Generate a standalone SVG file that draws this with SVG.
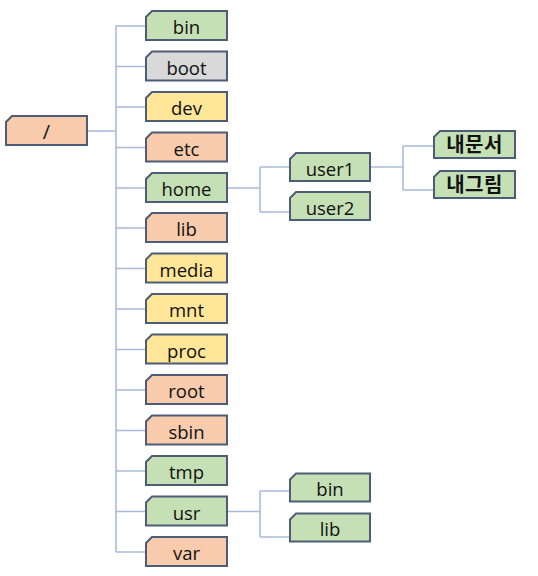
<svg xmlns="http://www.w3.org/2000/svg" width="538" height="576" viewBox="0 0 538 576">
<style>
.box{stroke:#4d5d78;stroke-width:2;stroke-linejoin:miter}
.g{fill:#c5e0b4}.gr{fill:#d9d9d9}.y{fill:#ffe699}.o{fill:#f8cbad}
.t{font-family:"Open Sans","Noto Sans",sans-serif;font-size:18.5px;fill:#111;text-anchor:middle}
.k{font-family:"Noto Sans CJK KR",sans-serif;font-size:20px;font-weight:bold;fill:#111;text-anchor:middle;letter-spacing:0.5px}
.ln{fill:none;stroke:#a9bbdc;stroke-width:1.6}
</style>
<defs>
<path id="b81" d="M6,0H81V29H0V6Z"/>
<path id="b80" d="M6,0H80V28H0V6Z"/>
<path id="bk" d="M6,0H81V27H0V6Z"/>
</defs>
<g id="connectors" class="ln">
<path d="M87,131H116"/>
<path d="M116,25.5V552"/>
<path d="M116,26H146M116,66.5H146M116,107H146M116,147.5H146M116,188H146M116,228H146M116,268.5H146M116,309H146M116,349.5H146M116,390H146M116,430.5H146M116,471H146M116,511.5H146M116,552H146"/>
<path d="M227,188H260M260,167V212M260,167H290M260,212H290"/>
<path d="M370,167H403M403,146V190M403,146H434M403,190H434"/>
<path d="M227,511.5H260M260,491V537M260,491H290M260,537H290"/>
</g>
<g id="root" transform="translate(6,116)"><use href="#b81" class="box o"/><text class="t" x="40.5" y="23" style="font-size:20px">/</text></g>
<g id="bin" transform="translate(146,11)"><use href="#b81" class="box g"/><text class="t" x="40.5" y="23">bin</text></g>
<g id="boot" transform="translate(146,51.5)"><use href="#b81" class="box gr"/><text class="t" x="40.5" y="23">boot</text></g>
<g id="dev" transform="translate(146,92)"><use href="#b81" class="box y"/><text class="t" x="40.5" y="23">dev</text></g>
<g id="etc" transform="translate(146,132.5)"><use href="#b81" class="box o"/><text class="t" x="40.5" y="23">etc</text></g>
<g id="home" transform="translate(146,173)"><use href="#b81" class="box g"/><text class="t" x="40.5" y="23">home</text></g>
<g id="lib" transform="translate(146,213)"><use href="#b81" class="box o"/><text class="t" x="40.5" y="23">lib</text></g>
<g id="media" transform="translate(146,253.5)"><use href="#b81" class="box y"/><text class="t" x="40.5" y="23">media</text></g>
<g id="mnt" transform="translate(146,294)"><use href="#b81" class="box y"/><text class="t" x="40.5" y="23">mnt</text></g>
<g id="proc" transform="translate(146,334.5)"><use href="#b81" class="box y"/><text class="t" x="40.5" y="23">proc</text></g>
<g id="root-dir" transform="translate(146,375)"><use href="#b81" class="box o"/><text class="t" x="40.5" y="23">root</text></g>
<g id="sbin" transform="translate(146,415.5)"><use href="#b81" class="box o"/><text class="t" x="40.5" y="23">sbin</text></g>
<g id="tmp" transform="translate(146,456)"><use href="#b81" class="box g"/><text class="t" x="40.5" y="23">tmp</text></g>
<g id="usr" transform="translate(146,496.5)"><use href="#b81" class="box g"/><text class="t" x="40.5" y="23">usr</text></g>
<g id="var" transform="translate(146,537)"><use href="#b81" class="box o"/><text class="t" x="40.5" y="23">var</text></g>
<g id="user1" transform="translate(290,153)"><use href="#b80" class="box g"/><text class="t" x="40" y="22.5">user1</text></g>
<g id="user2" transform="translate(290,192)"><use href="#b80" class="box g"/><text class="t" x="40" y="22.5">user2</text></g>
<g id="mydocs" transform="translate(434,131)"><use href="#bk" class="box g"/><text class="k" x="40.5" y="21">내문서</text></g>
<g id="mypics" transform="translate(434,171)"><use href="#bk" class="box g"/><text class="k" x="40.5" y="21">내그림</text></g>
<g id="usr-bin" transform="translate(290,473.5)"><use href="#b80" class="box g"/><text class="t" x="40" y="22.5">bin</text></g>
<g id="usr-lib" transform="translate(290,513.5)"><use href="#b80" class="box g"/><text class="t" x="40" y="22.5">lib</text></g>
</svg>
